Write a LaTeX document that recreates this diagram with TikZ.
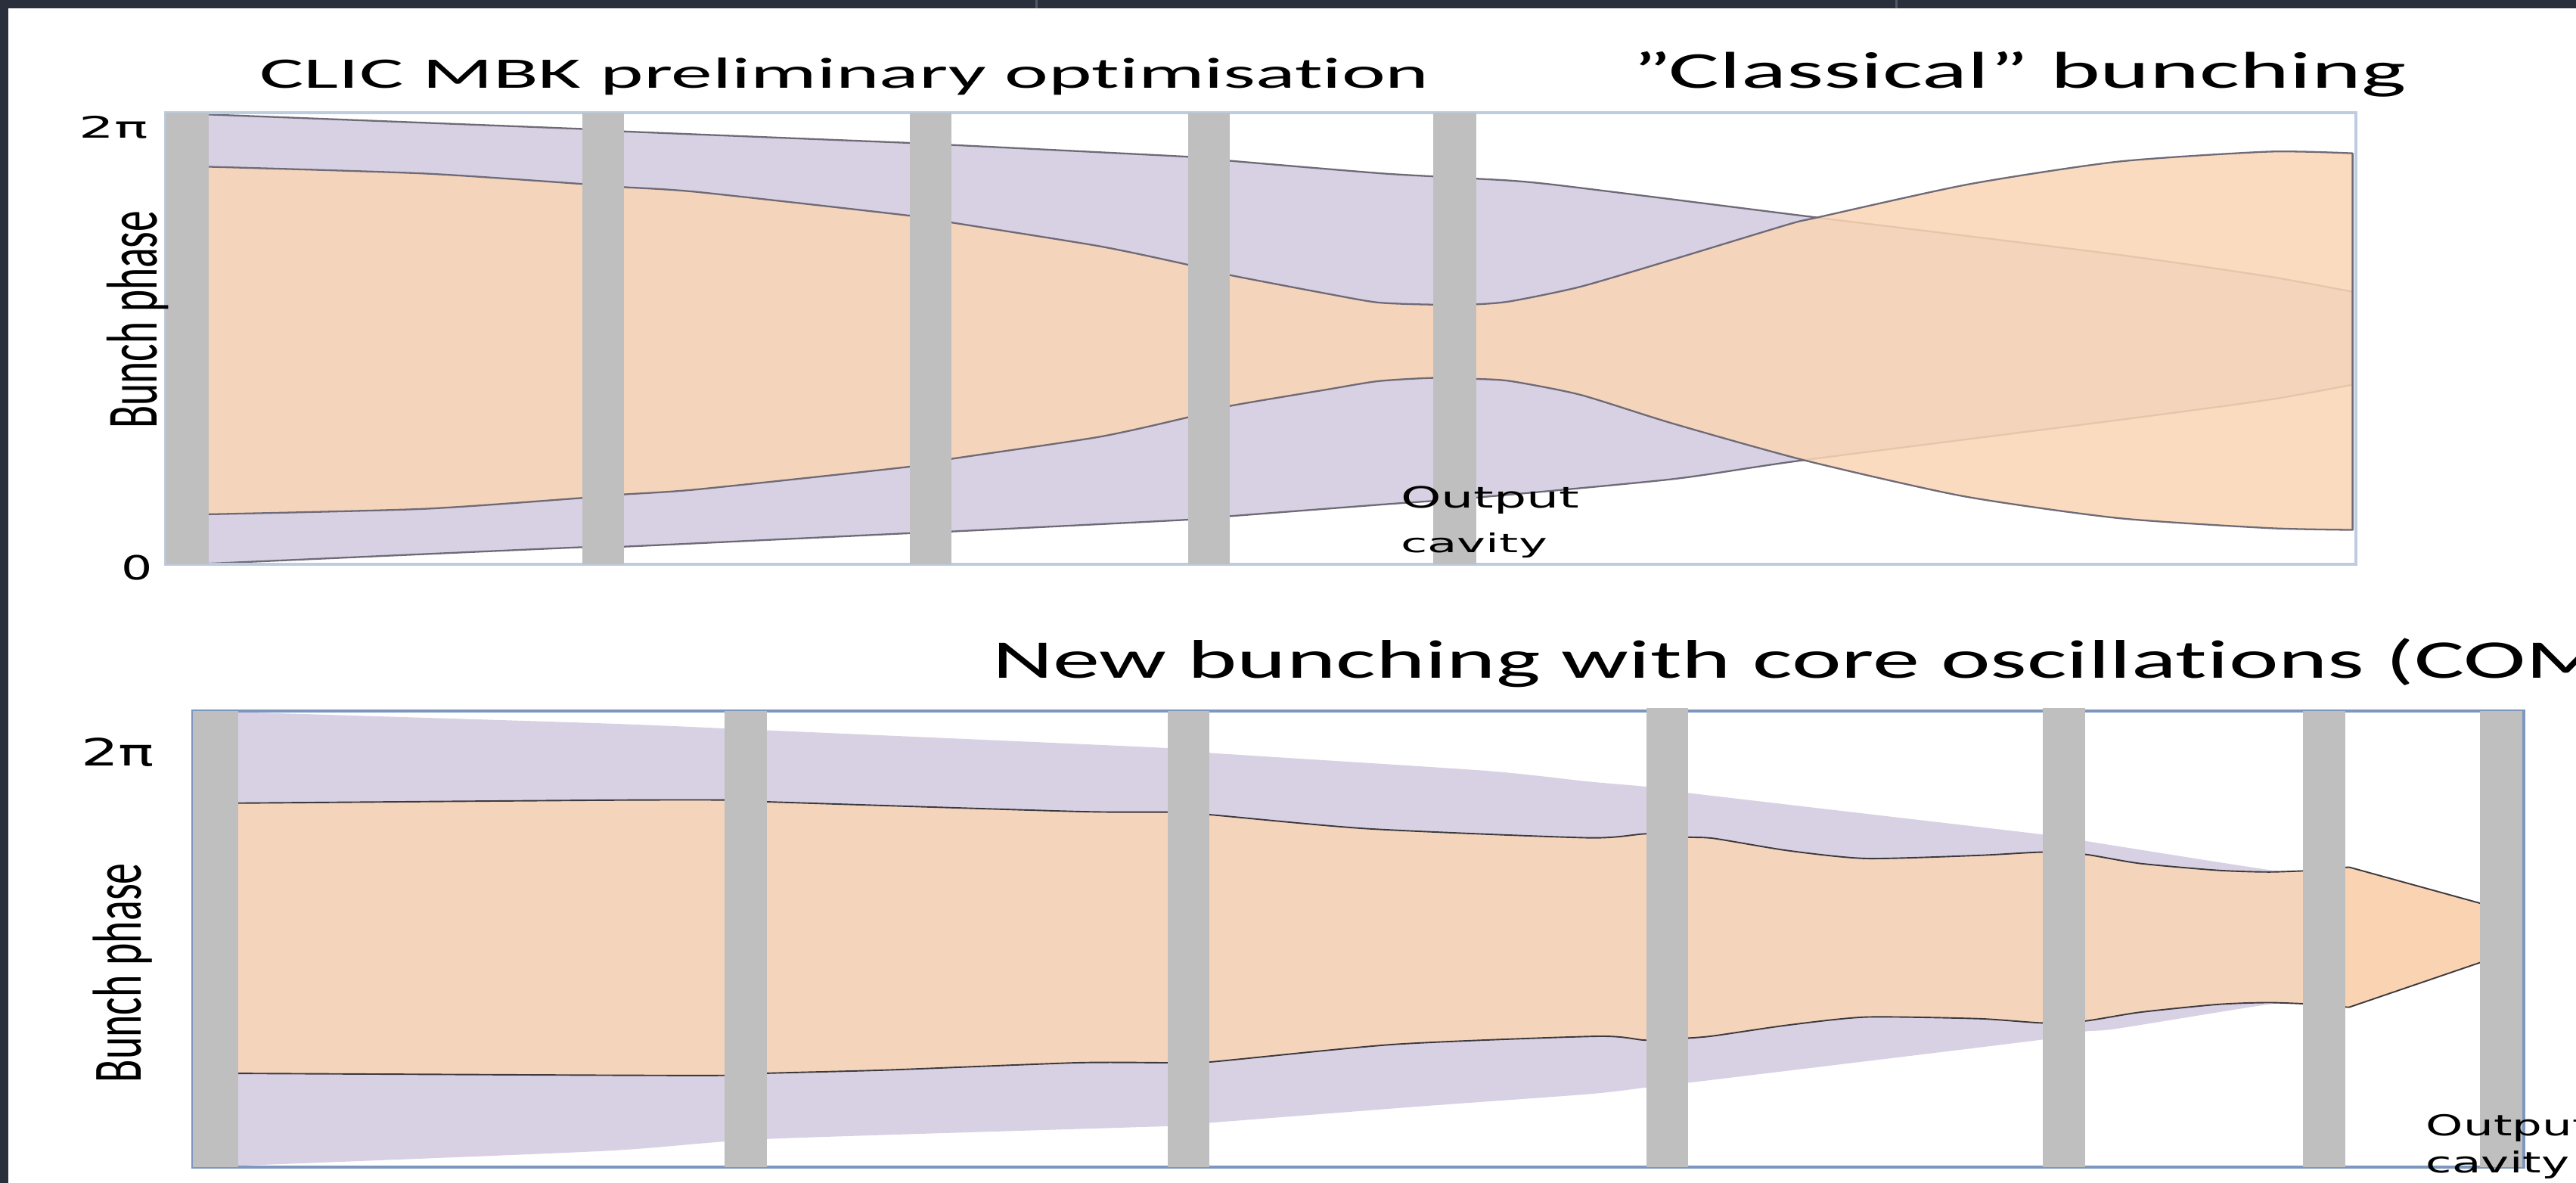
\documentclass[tikz,border=0pt]{standalone}
\usepackage{fontspec}
\usepackage{graphicx}
\newfontfamily\carl[Ligatures={NoCommon}]{Carlito}
\newfontfamily\dvs{DejaVu Sans}
\definecolor{darkbg}{RGB}{43,47,59}
\definecolor{sepcol}{RGB}{80,88,108}
\definecolor{purp}{RGB}{216,209,228}
\definecolor{oran}{RGB}{251,213,181}
\definecolor{oranb}{RGB}{250,211,178}
\definecolor{barg}{RGB}{191,191,191}
\definecolor{lineg}{RGB}{110,106,118}
\definecolor{lined}{RGB}{60,58,62}
\definecolor{frametop}{RGB}{190,204,224}
\definecolor{framebot}{RGB}{125,150,190}
\newsavebox\fitref
\newsavebox\fitfull
\newlength\fitW
\newlength\fitH
\newcommand\fitto[4]{%
  \sbox\fitref{#3}\sbox\fitfull{#4}%
  \setlength\fitW{\dimexpr #1*\wd\fitfull/\wd\fitref\relax}%
  \setlength\fitH{\dimexpr #2*\ht\fitfull/\ht\fitref\relax}%
  \resizebox{\fitW}{\fitH}{\usebox\fitfull}}
\begin{document}
\begin{tikzpicture}[x=0.02cm, y=-0.02cm,
  txt/.style={inner sep=0pt, outer sep=0pt, text=black, anchor=base west},
  cavbar/.style={fill=barg, draw=none},
  purptop/.style={fill=purp, draw=lineg, line width=0.6pt, line join=round},
  orantop/.style={fill=oran, fill opacity=0.85, draw=lineg, draw opacity=1, line width=0.6pt, line join=round},
  purpbot/.style={fill=purp, draw=none},
  oranbot/.style={fill=oran, fill opacity=0.85, draw=lined, draw opacity=1, line width=0.5pt, line join=round},
  oranout/.style={fill=oranb, draw=lined, line width=0.5pt, line join=round},
  smoothplot/.style={smooth, tension=0.4}]
\useasboundingbox (0,0) rectangle (1568,720);
\clip (0,0) rectangle (1568,720);
\fill[white] (0,0) rectangle (1568,720);
\fill[darkbg] (0,0) rectangle (1568,5);
\fill[darkbg] (0,0) rectangle (5.2,720);
\draw[sepcol, line width=0.8pt] (631,0) -- (631,5);
\draw[sepcol, line width=0.8pt] (1154.5,0) -- (1154.5,5);

% ---------- top panel ----------
\filldraw[purptop] plot[smoothplot] coordinates {(103,69.5) (127,69.7) (355,78.5) (380,80) (554,87) (579,88.2) (723,95.4) (748,97.8) (842,105.6) (898,108.7) (944,112.2) (1106,132.4) (1289,155) (1381,168.3) (1432,177.6)}
  -- plot[smoothplot] coordinates {(1432,234.1) (1381,243.3) (1289,255.7) (1096,280.3) (1018,291.6) (898,302.9) (842,307) (748,314.2) (723,316.3) (579,323.5) (554,324.5) (380,332.7) (355,333) (127,343) (103,343)} -- cycle;
\filldraw[orantop] plot[smoothplot] coordinates {(103,101.5) (127,101.5) (258,105.6) (355,112) (380,113.9) (425,116.9) (554,131.3) (579,135.4) (669,149.8) (723,161.1) (748,167.3) (807,178.6) (838.7,184.1) (872,185.4) (898.6,185.2) (919.8,183.3) (962,174.5) (1018,158) (1088.8,136.5) (1106,132.4) (1198,112.2) (1289,98.4) (1381,92.3) (1432,93.3)}
  -- plot[smoothplot] coordinates {(1432,322.5) (1381,321.4) (1289,315.3) (1194.5,301.9) (1099,280.3) (1018,257.7) (962,240.3) (919.8,232) (898.6,230.6) (872,230) (838.7,232) (807,237.2) (748,247.2) (723,254) (669,265.9) (579,279.3) (554,284) (425,297.8) (380,300.9) (355,303) (258,309.7) (127,313) (103,313)} -- cycle;
\draw[frametop, line width=1pt] (101,68.5) rectangle (1434,343.5);
\fill[cavbar] (101,68.5) rectangle (127,343.5);
\fill[cavbar] (354.5,68.5) rectangle (380,343.5);
\fill[cavbar] (554,68.5) rectangle (579,343.5);
\fill[cavbar] (723,68.5) rectangle (748.5,343.5);
\fill[cavbar] (872.5,68.5) rectangle (898.6,343.5);

% ---------- bottom panel ----------
\fill[purpbot] plot[smoothplot] coordinates {(117.4,433) (145,433.4) (368,440.3) (467,444.5) (711,455.3) (736,458.2) (903,469) (967,475.7) (1001,478.7) (1027.6,482.6) (1243.5,507.9) (1269,511.8) (1289,515) (1381,529.4) (1405,530.5)}
  -- plot[smoothplot] coordinates {(1405,611) (1381,611.3) (1289,626) (1269,627.8) (1243.5,632.7) (1027.6,659) (1001,662) (967,665.9) (861.5,673.6) (736,683.4) (711,685.4) (467,693.2) (368,700.5) (145,709.5) (117.4,710)} -- cycle;
\filldraw[oranbot] plot[smoothplot] coordinates {(117.4,489) (145,488.8) (368,487) (441,486.9) (467,488) (656,493.9) (711,494.3) (736,495.8) (832.8,504.4) (966.8,509.9) (1001.9,507.5) (1027.6,509.5) (1043.4,510.3) (1088.3,517.7) (1135.9,522.5) (1204.6,520.6) (1243.5,518.6) (1269.3,520) (1302.4,525.5) (1350,529.7) (1381.6,530.7) (1415,529.5)}
  -- plot[smoothplot] coordinates {(1415,611.5) (1381.6,610.2) (1350,611.3) (1302.4,616.1) (1269.3,621.4) (1243.5,622.6) (1204.6,620) (1135.9,619) (1088.3,623.9) (1043.4,630.4) (1027.6,631.8) (1001.9,633.1) (972.5,630.7) (849.2,635.6) (736,646.4) (711,646.8) (656,646.8) (541,651.2) (467,653.2) (441,654.5) (368,654.4) (145,653.3) (117.4,653.3)} -- cycle;
\filldraw[oranout] (1420,528.3) -- (1430,527.8) -- (1515,551.2) -- (1515,584) -- (1430,613) -- (1420,612.7) -- cycle;
\draw[framebot, line width=1pt] (117.4,432.8) rectangle (1536.4,710.4);
\fill[cavbar] (117.4,432.8) rectangle (145,710.4);
\fill[cavbar] (441,432.8) rectangle (467,710.4);
\fill[cavbar] (710.7,432.8) rectangle (736,710.4);
\fill[cavbar] (1002,431) rectangle (1027.6,710.4);
\fill[cavbar] (1243.5,431) rectangle (1269.3,710.4);
\fill[cavbar] (1402,432.8) rectangle (1427.5,710.4);
\fill[cavbar] (1509.7,432.8) rectangle (1535.4,710.4);

% ---------- texts ----------
\node[txt] (title1) at (158,53.7) {\resizebox{14.24cm}{0.368cm}{\carl CLIC MBK preliminary optimisation}};
\node[txt] (title2) at (993.7,53.7) {\resizebox{9.426cm}{0.444cm}{\carl ”Classical” bunching}};
\node[txt] (title3) at (604,412.8) {\fitto{16.712cm}{0.46cm}{\carl New bunching with core oscillations}{\carl New bunching with core oscillations (COM}};
\node[txt] (twopi1) at (48,84.1) {\resizebox{0.84cm}{0.268cm}{\dvs 2π}};
\node[txt] (zero1) at (74,353) {\resizebox{0.38cm}{0.30cm}{\dvs 0}};
\node[txt, rotate=90] (phase1) at (95.6,260.8) {\resizebox{2.65cm}{0.61cm}{\carl Bunch phase}};
\node[txt] (out1) at (852.7,309.2) {\resizebox{2.176cm}{0.264cm}{\dvs Output}};
\node[txt] (cav1) at (852.7,336.1) {\resizebox{1.784cm}{0.24cm}{\dvs cavity}};
\node[txt] (twopi2) at (49.3,466) {\resizebox{0.894cm}{0.34cm}{\dvs 2π}};
\node[txt, rotate=90] (phase2) at (85.7,658.9) {\resizebox{2.672cm}{0.586cm}{\carl Bunch phase}};
\node[txt] (out2) at (1476.8,691.4) {\fitto{1.742cm}{0.266cm}{\dvs cavity}{\dvs Output}};
\node[txt] (cav2) at (1476.8,713.8) {\resizebox{1.742cm}{0.266cm}{\dvs cavity}};
\end{tikzpicture}
\end{document}
